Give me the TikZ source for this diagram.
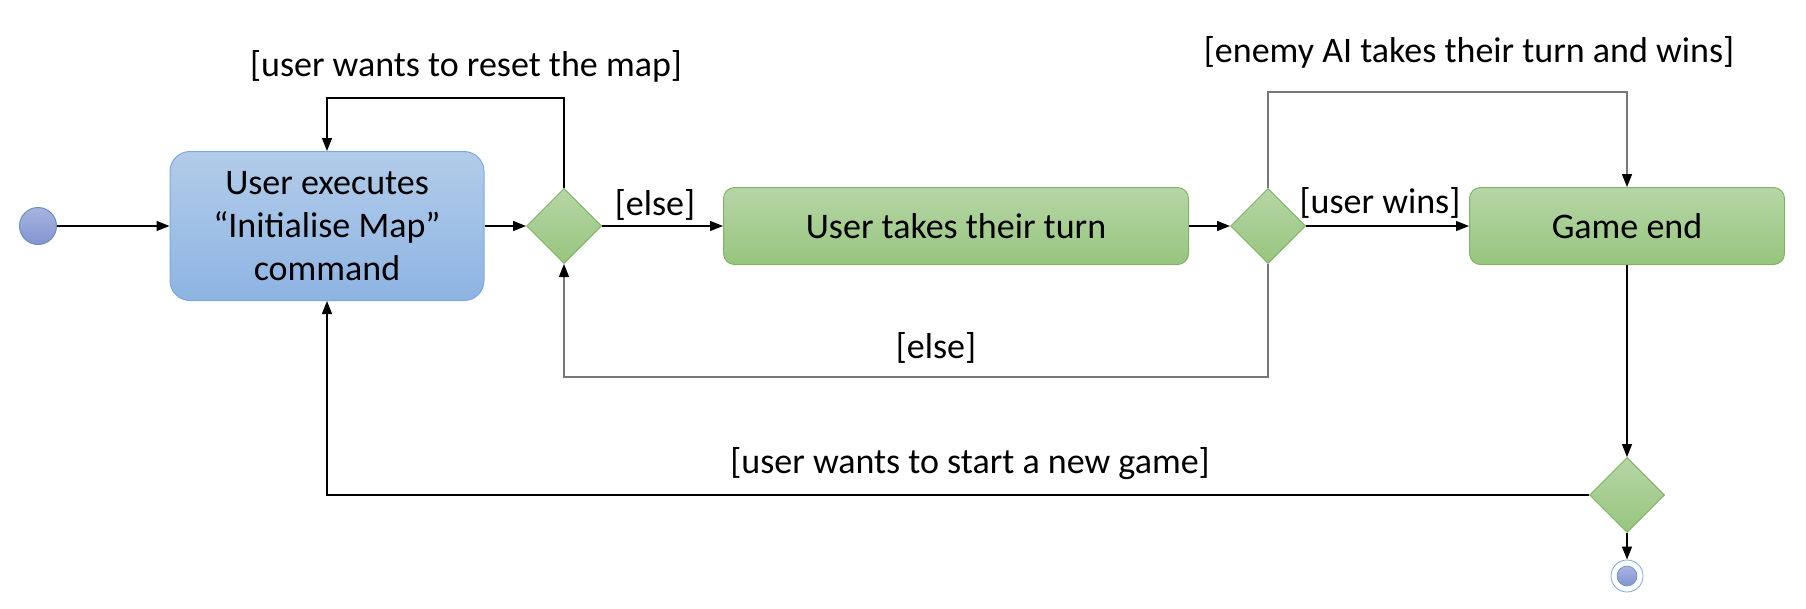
\documentclass[tikz,border=0pt]{standalone}
\usepackage{fontspec}
\setmainfont{Carlito}
\usetikzlibrary{arrows.meta,shapes.geometric}

\definecolor{bluetop}{RGB}{178,204,234}
\definecolor{bluebot}{RGB}{141,180,226}
\definecolor{blueline}{RGB}{126,166,224}
\definecolor{greentop}{RGB}{182,214,166}
\definecolor{greenbot}{RGB}{151,197,126}
\definecolor{greenline}{RGB}{130,179,102}
\definecolor{dotline}{RGB}{108,142,191}
\definecolor{dottop}{RGB}{168,180,224}
\definecolor{dotbot}{RGB}{130,148,208}
\definecolor{loopgray}{RGB}{120,120,120}

\tikzset{
  bigtext/.style={font=\fontsize{36pt}{43pt}\selectfont},
  action/.style={bigtext, draw=greenline, line width=1pt, rounded corners=11pt,
    top color=greentop, bottom color=greenbot, align=center, inner sep=0pt},
  choice/.style={diamond, aspect=1, draw=greenline, line width=1pt,
    top color=greentop, bottom color=greenbot, minimum width=75pt, minimum height=75pt, inner sep=0pt},
  flow/.style={line width=1.3pt, -{Triangle[length=13pt,width=10pt,color=black]}},
  guard/.style={bigtext, inner sep=0pt}
}

\begin{document}
\begin{tikzpicture}[x=1pt,y=-1pt]
    \useasboundingbox (0,0) rectangle (1806,608);
    % start and end
    \node[circle, draw=dotline, line width=1pt, top color=dottop, bottom color=dotbot,
      minimum size=37pt, inner sep=0pt] (start) at (38,226) {};
    \node[circle, draw=blueline, line width=0.8pt, fill=white, minimum size=32pt, inner sep=0pt] (stop) at (1627,576) {};
    \node[circle, draw=dotline, line width=0.6pt, top color=dottop, bottom color=dotbot,
      minimum size=20pt, inner sep=0pt] at (stop) {};
    % activities
    \node[action, draw=blueline, top color=bluetop, bottom color=bluebot, rounded corners=20pt,
      minimum width=314pt, minimum height=149pt] (initmap) at (327,226)
      {User executes\\``Initialise Map''\\command};
    \node[action, minimum width=465pt, minimum height=77pt] (userturn) at (956,226) {User takes their turn};
    \node[action, minimum width=315pt, minimum height=77pt] (gameend) at (1627,226) {Game end};
    % decisions
    \node[choice] (resetdec) at (564,226) {};
    \node[choice] (windec) at (1268,226) {};
    \node[choice] (newdec) at (1627,495) {};
    % corner heights of the loops
    \coordinate (resettop) at (0,98);
    \coordinate (enemytop) at (0,92);
    \coordinate (elsebot) at (0,377);
    % connectors
    \draw[flow] (start) -- (initmap);
    \draw[flow] (initmap) -- (resetdec);
    \draw[flow] (resetdec) -- (userturn);
    \draw[flow] (userturn) -- (windec);
    \draw[flow] (windec) -- (gameend);
    \draw[flow] (gameend) -- (newdec);
    \draw[flow] (newdec) -- (stop);
    \draw[flow] (resetdec.north) -- (resetdec.north |- resettop) -| (initmap.north);
    \draw[flow, loopgray] (windec.north) -- (windec.north |- enemytop) -| (gameend.north);
    \draw[flow, loopgray] (windec.south) -- (windec.south |- elsebot) -| (resetdec.south);
    \draw[flow] (newdec.west) -| (initmap.south);
    % guards
    \node[guard] (resetlbl) at (466,66) {[user wants to reset the map]};
    \node[guard] (enemylbl) at (1469,52) {[enemy AI takes their turn and wins]};
    \node[guard] (elselbl) at (655,205) {[else]};
    \node[guard] (winslbl) at (1380,203) {[user wins]};
    \node[guard] (elselbl2) at (936,348) {[else]};
    \node[guard] (newlbl) at (970,464) {[user wants to start a new game]};
\end{tikzpicture}
\end{document}
